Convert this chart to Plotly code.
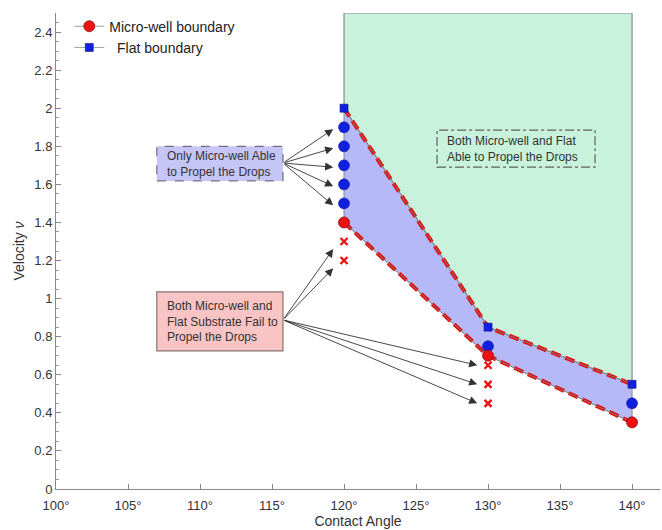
import plotly.graph_objects as go

# Contact angles (degrees) where the boundaries were measured
angles = [120, 130, 140]
# Critical velocities on each substrate
microwell_boundary = [1.4, 0.7, 0.35]
flat_boundary = [2.0, 0.85, 0.55]

# Velocities where only the micro-well substrate propelled the drop
propel_x = [120, 120, 120, 120, 120, 130, 140]
propel_v = [1.9, 1.8, 1.7, 1.6, 1.5, 0.75, 0.45]

# Velocities where both substrates failed
fail_x = [120, 120, 130, 130, 130]
fail_v = [1.3, 1.2, 0.65, 0.55, 0.45]

x_ticks = [100, 105, 110, 115, 120, 125, 130, 135, 140]
x_ticktext = [f"{t}°" for t in x_ticks]
y_ticks = [0, 0.2, 0.4, 0.6, 0.8, 1.0, 1.2, 1.4, 1.6, 1.8, 2.0, 2.2, 2.4]
y_ticktext = ["0", "0.2", "0.4", "0.6", "0.8", "1", "1.2", "1.4", "1.6", "1.8", "2", "2.2", "2.4"]

v_top = 2.5
FONT = "Arial, Liberation Sans, sans-serif"
GREEN = "#c8f2dc"
LAVENDER = "#b5b9f7"
EDGE = "#7f8c8c"

fig = go.Figure()

# Region where both substrates propel the drops (above the flat boundary)
green_x = [angles[0]] + angles + [angles[-1], angles[0]]
green_y = [v_top] + flat_boundary + [v_top, v_top]
fig.add_trace(go.Scatter(x=green_x, y=green_y, mode="lines", fill="toself",
                         fillcolor=GREEN, line=dict(color="#8a8a8a", width=1.2),
                         hoverinfo="skip", showlegend=False))

# Region between the two boundaries
band_x = angles + angles[::-1] + [angles[0]]
band_y = flat_boundary + microwell_boundary[::-1] + [flat_boundary[0]]
fig.add_trace(go.Scatter(x=band_x, y=band_y, mode="lines", fill="toself",
                         fillcolor=LAVENDER, line=dict(color=EDGE, width=1),
                         hoverinfo="skip", showlegend=False))

# Red dashed overlay on both boundaries
for vals in (flat_boundary, microwell_boundary):
    fig.add_trace(go.Scatter(x=angles, y=vals, mode="lines",
                             line=dict(color="#e01010", width=4, dash="10px,5px"),
                             hoverinfo="skip", showlegend=False))

# Successful propulsion on micro-well
fig.add_trace(go.Scatter(x=propel_x, y=propel_v, mode="markers",
                         marker=dict(symbol="circle", size=11, color="#1020e0",
                                     line=dict(color="#1a1a9a", width=0.6)),
                         showlegend=False))

# Failures on both substrates
fig.add_trace(go.Scatter(x=fail_x, y=fail_v, mode="markers",
                         marker=dict(symbol="x-thin", size=7, color="#ee1111",
                                     line=dict(color="#ee1111", width=2.4)),
                         showlegend=False))

# Boundary curves with markers (legend entries)
fig.add_trace(go.Scatter(x=angles, y=microwell_boundary, mode="lines+markers",
                         name="Micro-well boundary",
                         marker=dict(symbol="circle", size=11, color="#ee1111",
                                     line=dict(color="#8a1010", width=0.8)),
                         line=dict(color=EDGE, width=0.8)))
fig.add_trace(go.Scatter(x=angles, y=flat_boundary, mode="lines+markers",
                         name="  Flat boundary",
                         marker=dict(symbol="square", size=8, color="#1020e0",
                                     line=dict(color="#101080", width=0.6)),
                         line=dict(color=EDGE, width=0.8)))

annotations = []
shapes = []

# Text boxes
boxes = [
    (107.0, 115.76, 1.618, 1.80, "#c6c6f6", "#707080", "dash",
     "Only Micro-well Able<br>to Propel the Drops"),
    (107.0, 115.76, 0.725, 1.035, "#f9c4c4", "#8a7070", "solid",
     "Both Micro-well and<br>Flat Substrate Fail to<br>Propel the Drops"),
    (126.46, 137.43, 1.69, 1.885, "rgba(0,0,0,0)", "#606060", "dashdot",
     "Both Micro-well and Flat<br>Able to Propel the Drops"),
]
for x0, x1, y0, y1, bg, bc, dash, txt in boxes:
    shapes.append(dict(type="rect", xref="x", yref="y", x0=x0, x1=x1, y0=y0, y1=y1,
                       fillcolor=bg, line=dict(color=bc, width=1.2, dash=dash),
                       layer="above"))
    annotations.append(dict(x=x0 + 0.55, y=(y0 + y1) / 2, xref="x", yref="y",
                            text=txt, showarrow=False, xanchor="left", align="left",
                            font=dict(family=FONT, size=12, color="#333333")))

# Arrows from the boxes to the tested points
tail1 = (115.76, 1.712)
for xv, v in zip(propel_x[:5], propel_v[:5]):
    annotations.append(dict(x=xv - 0.75, y=v - 0.01, ax=tail1[0], ay=tail1[1],
                            xref="x", yref="y", axref="x", ayref="y", text="",
                            showarrow=True, arrowhead=2, arrowsize=1.8,
                            arrowwidth=0.9, arrowcolor="#333333", standoff=0))
tail2 = (115.76, 0.888)
for xv, v in zip(fail_x, fail_v):
    dv = 0.04 if xv == 120 else 0.0
    annotations.append(dict(x=xv - 0.75, y=v - dv, ax=tail2[0], ay=tail2[1],
                            xref="x", yref="y", axref="x", ayref="y", text="",
                            showarrow=True, arrowhead=2, arrowsize=1.8,
                            arrowwidth=0.9, arrowcolor="#333333", standoff=0))

fig.update_layout(
    width=662, height=530,
    margin=dict(l=56, r=2, t=13, b=41),
    plot_bgcolor="white", paper_bgcolor="white",
    font=dict(family=FONT, size=13, color="#333333"),
    shapes=shapes, annotations=annotations,
    showlegend=True,
    legend=dict(x=0.022, y=1.005, xanchor="left", yanchor="top",
                bgcolor="rgba(255,255,255,0)", font=dict(size=14, color="#222222"),
                itemwidth=30, tracegroupgap=0),
    xaxis=dict(range=[100, 141.94], tickvals=x_ticks, ticktext=x_ticktext,
               ticks="inside", ticklen=5, tickcolor="#888888", ticklabelstandoff=4,
               showline=True, linecolor="#888888", linewidth=1,
               showgrid=False, zeroline=False,
               title=dict(text="Contact Angle", font=dict(size=14), standoff=4)),
    yaxis=dict(range=[0, v_top], tickvals=y_ticks, ticktext=y_ticktext,
               ticks="inside", ticklen=5, tickcolor="#888888",
               minor=dict(dtick=0.05, ticks="inside", ticklen=3, tickcolor="#999999"),
               showline=True, linecolor="#888888", linewidth=1,
               showgrid=False, zeroline=False,
               title=dict(text="Velocity <i>ν</i>", font=dict(size=14), standoff=6)),
)

fig.write_html("out.html")
